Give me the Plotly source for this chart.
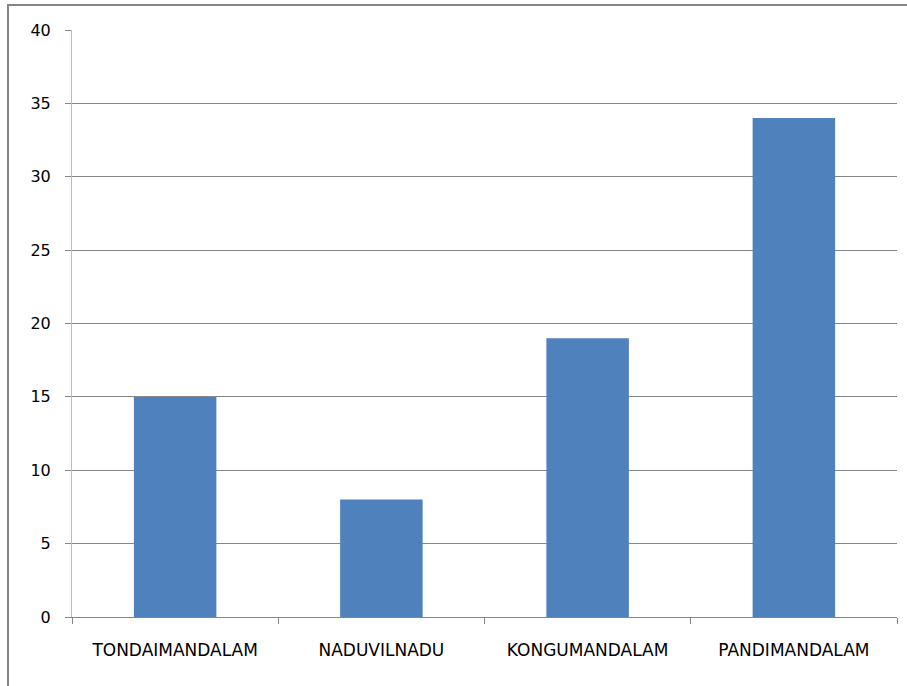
import plotly.graph_objects as go

categories = ["TONDAIMANDALAM", "NADUVILNADU", "KONGUMANDALAM", "PANDIMANDALAM"]
values = [15, 8, 19, 34]
y_ticks = [0, 5, 10, 15, 20, 25, 30, 35, 40]

W, H = 907, 686
L, R, T, B = 72, 10, 30, 69
pw, ph = W - L - R, H - T - B

fig = go.Figure(go.Bar(x=categories, y=values, marker=dict(color="#4F81BD", line=dict(width=0)), width=0.4))

def px_x(p):
    return (p - L) / pw

def px_y(p):
    return (H - B - p) / ph

fig.update_layout(
    width=W, height=H,
    margin=dict(l=L, r=R, t=T, b=B),
    plot_bgcolor="white", paper_bgcolor="white",
    font=dict(family="DejaVu Sans", size=16, color="#000000"),
    showlegend=False,
    xaxis=dict(showline=True, linecolor="#868686", linewidth=1, ticks="outside", tickson="boundaries",
               ticklen=6, tickcolor="#868686", showgrid=False, tickfont=dict(size=17),
               ticklabelstandoff=18),
    yaxis=dict(range=[0, 40], tickvals=y_ticks, showgrid=True, gridcolor="#868686", gridwidth=1,
               showline=True, linecolor="#BFBFBF", linewidth=1, ticks="outside", ticklen=6,
               tickcolor="#868686", zeroline=False, tickfont=dict(size=16),
               ticklabelstandoff=11),
    shapes=[
        dict(type="rect", xref="paper", yref="paper", x0=px_x(8), x1=px_x(930), y0=px_y(720), y1=px_y(5),
             line=dict(color="#868686", width=2), fillcolor="rgba(0,0,0,0)", layer="below"),
    ],
)

fig.write_html("out.html", config={"displayModeBar": False},
               post_script="document.body.style.margin='0';document.body.style.overflow='hidden';")
